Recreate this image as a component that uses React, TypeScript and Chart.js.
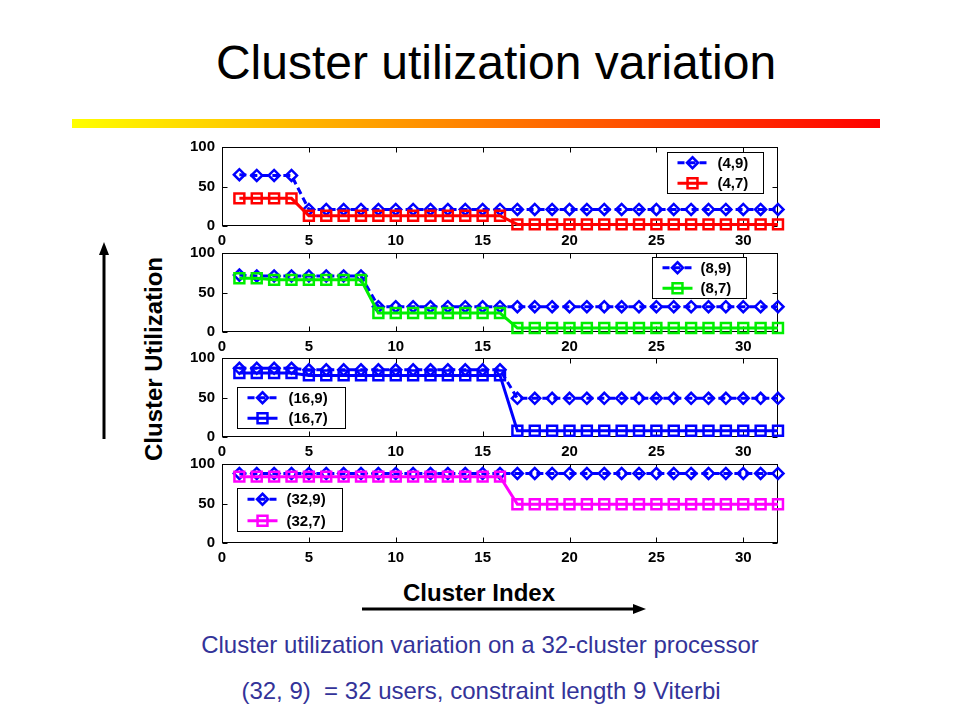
import React, { useEffect, useRef } from "react";
import { Chart, registerables } from "chart.js";

Chart.register(...registerables);

// ---------- data ----------
const clusterIndex = [1, 2, 3, 4, 5, 6, 7, 8, 9, 10, 11, 12, 13, 14, 15, 16, 17, 18, 19, 20, 21, 22, 23, 24, 25, 26, 27, 28, 29, 30, 31, 32];
const xTickValues = [0, 5, 10, 15, 20, 25, 30];
const yTickValues = [0, 50, 100];

const util_4_9 = [65, 64, 64, 64, 21, 21, 21, 21, 21, 21, 21, 21, 21, 21, 21, 21, 21, 21, 21, 21, 21, 21, 21, 21, 21, 21, 21, 21, 21, 21, 21, 21];
const util_4_7 = [35, 35, 35, 35, 13, 13, 13, 13, 13, 13, 13, 13, 13, 13, 13, 13, 2, 2, 2, 2, 2, 2, 2, 2, 2, 2, 2, 2, 2, 2, 2, 2];
const util_8_9 = [72, 71, 71, 71, 71, 71, 71, 71, 32, 32, 32, 32, 32, 32, 32, 32, 32, 32, 32, 32, 32, 32, 32, 32, 32, 32, 32, 32, 32, 32, 32, 32];
const util_8_7 = [68, 68, 66, 66, 66, 66, 66, 66, 24, 24, 24, 24, 24, 24, 24, 24, 5, 5, 5, 5, 5, 5, 5, 5, 5, 5, 5, 5, 5, 5, 5, 5];
const util_16_9 = [87, 87, 87, 87, 85, 85, 85, 85, 85, 85, 85, 85, 85, 85, 85, 85, 49, 49, 49, 49, 49, 49, 49, 49, 49, 49, 49, 49, 49, 49, 49, 49];
const util_16_7 = [81, 81, 81, 81, 78, 78, 78, 78, 78, 78, 78, 78, 78, 78, 78, 78, 8, 8, 8, 8, 8, 8, 8, 8, 8, 8, 8, 8, 8, 8, 8, 8];
const util_32_9 = [88, 88, 88, 88, 88, 88, 88, 88, 88, 88, 88, 88, 88, 88, 88, 88, 88, 88, 88, 88, 88, 88, 88, 88, 88, 88, 88, 88, 88, 88, 88, 88];
const util_32_7 = [84, 84, 84, 84, 84, 84, 84, 84, 84, 84, 84, 84, 84, 84, 84, 84, 49, 49, 49, 49, 49, 49, 49, 49, 49, 49, 49, 49, 49, 49, 49, 49];

const labels_4 = ["(4,9)", "(4,7)"];
const labels_8 = ["(8,9)", "(8,7)"];
const labels_16 = ["(16,9)", "(16,7)"];
const labels_32 = ["(32,9)", "(32,7)"];

const titleText = "Cluster utilization variation";
const yAxisTitle = "Cluster Utilization";
const xAxisTitle = "Cluster Index";
const caption1 = "Cluster utilization variation on a 32-cluster processor";
const caption2 = "(32, 9)  = 32 users, constraint length 9 Viterbi";

// ---------- layout / style ----------
const FONT = '"Liberation Sans", Arial, Helvetica, sans-serif';
const BLUE = "#0000ff";
const RED = "#ff0000";
const GREEN = "#00ee00";
const MAGENTA = "#ff00ff";

const PLOT_LEFT = 222;
const PLOT_W = 556;
const PLOT_H = 79;
const Y_AXIS_W = 50;
const X_AXIS_H = 26;
const PAD_TOP = 12;
const PAD_RIGHT = 12;
const CANVAS_W = Y_AXIS_W + PLOT_W + PAD_RIGHT;
const CANVAS_H = PAD_TOP + PLOT_H + X_AXIS_H;

type Marker = "rectRot" | "rect";
type SeriesSpec = { label: string; values: number[]; color: string; marker: Marker; dashed: boolean };
type LegendSpec = { left: number; top: number; width: number; height: number; sampleStart: number; sampleLen: number; textStart: number };

function drawMarker(ctx: CanvasRenderingContext2D, style: string, x: number, y: number, r: number, lw: number, color: string) {
  ctx.save();
  ctx.setLineDash([]);
  ctx.strokeStyle = color;
  ctx.lineWidth = lw;
  ctx.beginPath();
  if (style === "rectRot") {
    ctx.moveTo(x, y - r);
    ctx.lineTo(x + r, y);
    ctx.lineTo(x, y + r);
    ctx.lineTo(x - r, y);
    ctx.closePath();
  } else {
    const s = r * Math.SQRT1_2;
    ctx.rect(x - s, y - s, 2 * s, 2 * s);
  }
  ctx.stroke();
  ctx.restore();
}

const frameTicksPlugin = {
  id: "frameTicks",
  beforeDatasetsDraw(chart: any) {
    const { ctx, chartArea: a, scales } = chart;
    ctx.save();
    ctx.strokeStyle = "#000";
    ctx.lineWidth = 1;
    ctx.setLineDash([]);
    const l = Math.round(a.left) + 0.5;
    const t = Math.round(a.top) + 0.5;
    const r = Math.round(a.right) - 0.5;
    const b = Math.round(a.bottom) - 0.5;
    ctx.strokeRect(l, t, r - l, b - t);
    const tl = 5;
    ctx.beginPath();
    xTickValues.forEach((v) => {
      const px = Math.round(scales.x.getPixelForValue(v)) + 0.5;
      ctx.moveTo(px, b);
      ctx.lineTo(px, b - tl);
      ctx.moveTo(px, t);
      ctx.lineTo(px, t + tl);
    });
    yTickValues.forEach((v) => {
      const py = Math.round(scales.y.getPixelForValue(v)) + 0.5;
      ctx.moveTo(l, py);
      ctx.lineTo(l + tl, py);
      ctx.moveTo(r, py);
      ctx.lineTo(r - tl, py);
    });
    ctx.stroke();
    ctx.restore();
  },
};

const boxLegendPlugin = {
  id: "boxLegend",
  afterDatasetsDraw(chart: any, _args: any, opts: any) {
    if (!opts || opts.width == null) return;
    const { ctx, chartArea } = chart;
    const bx = Math.round(chartArea.left + opts.left) + 0.5;
    const by = Math.round(chartArea.top + opts.top) + 0.5;
    ctx.save();
    ctx.fillStyle = "#fff";
    ctx.fillRect(bx, by, opts.width, opts.height);
    ctx.strokeStyle = "#000";
    ctx.lineWidth = 1;
    ctx.setLineDash([]);
    ctx.strokeRect(bx, by, opts.width, opts.height);
    const ds = chart.data.datasets;
    ds.forEach((d: any, i: number) => {
      const cy = by + (opts.height * (2 * i + 1)) / (2 * ds.length);
      const x0 = bx + opts.sampleStart;
      const x1 = x0 + opts.sampleLen;
      ctx.strokeStyle = d.borderColor;
      ctx.lineWidth = d.borderWidth;
      ctx.setLineDash(d.borderDash || []);
      ctx.beginPath();
      ctx.moveTo(x0, cy);
      ctx.lineTo(x1, cy);
      ctx.stroke();
      ctx.setLineDash([]);
      drawMarker(ctx, d.pointStyle, (x0 + x1) / 2, cy, d.pointRadius, d.pointBorderWidth, d.borderColor);
      ctx.fillStyle = "#000";
      ctx.font = `bold 15px ${FONT}`;
      ctx.textBaseline = "middle";
      ctx.textAlign = "left";
      ctx.fillText(d.label, bx + opts.textStart, cy + 1);
    });
    ctx.restore();
  },
};

function Subplot({ top, series, legend }: { top: number; series: SeriesSpec[]; legend: LegendSpec }) {
  const ref = useRef<HTMLCanvasElement>(null);
  useEffect(() => {
    if (!ref.current) return;
    const tickFont = { family: FONT, size: 15, weight: "bold" as const };
    const chart = new Chart(ref.current, {
      type: "line",
      data: {
        datasets: series.map((s) => ({
          label: s.label,
          data: s.values.map((v, i) => ({ x: clusterIndex[i], y: v })),
          borderColor: s.color,
          backgroundColor: s.color,
          borderWidth: 3,
          borderDash: s.dashed ? [7, 4] : [],
          pointStyle: s.marker,
          pointRadius: s.marker === "rect" ? 7 : 5.5,
          pointHoverRadius: s.marker === "rect" ? 7 : 5.5,
          pointBorderWidth: 2.5,
          pointBorderColor: s.color,
          pointBackgroundColor: "rgba(0,0,0,0)",
          tension: 0,
          clip: false as any,
          order: s.dashed ? 1 : 0,
        })),
      },
      options: {
        animation: false,
        responsive: false,
        events: [],
        layout: { padding: { top: PAD_TOP, right: PAD_RIGHT, left: 0, bottom: 0 } },
        plugins: {
          legend: { display: false },
          tooltip: { enabled: false },
          boxLegend: legend,
        } as any,
        scales: {
          x: {
            type: "linear",
            min: 0,
            max: 32,
            afterBuildTicks: (s: any) => {
              s.ticks = xTickValues.map((v) => ({ value: v }));
            },
            afterFit: (s: any) => {
              s.height = X_AXIS_H;
            },
            ticks: { font: tickFont, color: "#000", padding: 0, maxRotation: 0, autoSkip: false },
            grid: { display: false, drawTicks: true, tickLength: 6 },
            border: { display: false },
          },
          y: {
            type: "linear",
            min: 0,
            max: 100,
            afterBuildTicks: (s: any) => {
              s.ticks = yTickValues.map((v) => ({ value: v }));
            },
            afterFit: (s: any) => {
              s.width = Y_AXIS_W;
            },
            ticks: { font: tickFont, color: "#000", padding: 0, autoSkip: false },
            grid: { display: false, drawTicks: true, tickLength: 7 },
            border: { display: false },
          },
        },
      },
      plugins: [frameTicksPlugin, boxLegendPlugin],
    });
    return () => chart.destroy();
  }, []);
  return (
    <canvas
      ref={ref}
      width={CANVAS_W}
      height={CANVAS_H}
      style={{ position: "absolute", left: PLOT_LEFT - Y_AXIS_W, top: top - PAD_TOP, width: CANVAS_W, height: CANVAS_H }}
    />
  );
}

export default function App() {
  const subplots: { top: number; series: SeriesSpec[]; legend: LegendSpec }[] = [
    {
      top: 147,
      series: [
        { label: labels_4[0], values: util_4_9, color: BLUE, marker: "rectRot", dashed: true },
        { label: labels_4[1], values: util_4_7, color: RED, marker: "rect", dashed: false },
      ],
      legend: { left: 445, top: 5, width: 96, height: 41, sampleStart: 10, sampleLen: 30, textStart: 50 },
    },
    {
      top: 253,
      series: [
        { label: labels_8[0], values: util_8_9, color: BLUE, marker: "rectRot", dashed: true },
        { label: labels_8[1], values: util_8_7, color: GREEN, marker: "rect", dashed: false },
      ],
      legend: { left: 430, top: 4, width: 94, height: 41, sampleStart: 10, sampleLen: 30, textStart: 48 },
    },
    {
      top: 358,
      series: [
        { label: labels_16[0], values: util_16_9, color: BLUE, marker: "rectRot", dashed: true },
        { label: labels_16[1], values: util_16_7, color: BLUE, marker: "rect", dashed: false },
      ],
      legend: { left: 15, top: 29, width: 108, height: 41, sampleStart: 10, sampleLen: 30, textStart: 51 },
    },
    {
      top: 464,
      series: [
        { label: labels_32[0], values: util_32_9, color: BLUE, marker: "rectRot", dashed: true },
        { label: labels_32[1], values: util_32_7, color: MAGENTA, marker: "rect", dashed: false },
      ],
      legend: { left: 15, top: 24, width: 105, height: 43, sampleStart: 10, sampleLen: 30, textStart: 49 },
    },
  ];

  return (
    <div style={{ position: "absolute", left: 0, top: 0, width: 960, height: 720, background: "#fff", overflow: "hidden" }}>
      <svg width={960} height={720} style={{ position: "absolute", left: 0, top: 0 }} fontFamily={FONT}>
        <defs>
          <linearGradient id="bar" x1="0" y1="0" x2="1" y2="0">
            <stop offset="0" stopColor="#ffff00" />
            <stop offset="1" stopColor="#ff0000" />
          </linearGradient>
        </defs>
        <text x={496} y={79} fontSize={48} textAnchor="middle" fill="#000">
          {titleText}
        </text>
        <rect x={72} y={119} width={808} height={9} fill="url(#bar)" />
        <g transform="translate(162,359) rotate(-90)">
          <text x={0} y={0} fontSize={24} fontWeight="bold" textAnchor="middle" fill="#000">
            {yAxisTitle}
          </text>
        </g>
        <line x1={104} y1={439} x2={104} y2={252} stroke="#000" strokeWidth={3} />
        <polygon points="104,242 99,255 109,255" fill="#000" />
        <text x={479} y={601} fontSize={24} fontWeight="bold" textAnchor="middle" fill="#000">
          {xAxisTitle}
        </text>
        <line x1={362} y1={609} x2={634} y2={609} stroke="#000" strokeWidth={3} />
        <polygon points="646,609 633,604 633,614" fill="#000" />
        <text x={480} y={653} fontSize={24} textAnchor="middle" fill="#333399">
          {caption1}
        </text>
        <text x={481} y={699} fontSize={24} textAnchor="middle" fill="#333399" style={{ whiteSpace: "pre" }}>
          {caption2}
        </text>
      </svg>
      {subplots.map((p, i) => (
        <Subplot key={i} top={p.top} series={p.series} legend={p.legend} />
      ))}
    </div>
  );
}
